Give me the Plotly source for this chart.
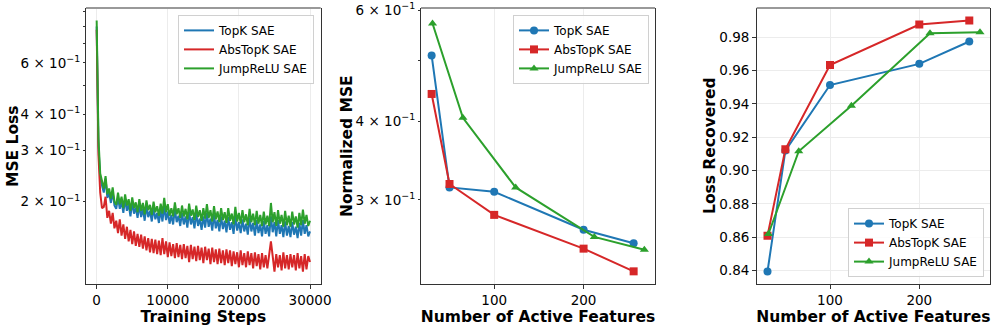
import numpy as np
import plotly.graph_objects as go

# --- data -------------------------------------------------------------
# training curves, one value every 250 steps (0 .. 30000)
steps = np.arange(0, 30001, 250)

mse_topk = [
    0.80, 0.31, 0.24, 0.225, 0.215, 0.24, 0.206, 0.215, 0.198, 0.216, 0.194, 0.189,
    0.207, 0.189, 0.2, 0.183, 0.204, 0.186, 0.196, 0.178, 0.199, 0.182, 0.191, 0.176,
    0.195, 0.177, 0.189, 0.172, 0.193, 0.177, 0.186, 0.171, 0.19, 0.174, 0.183, 0.169,
    0.187, 0.171, 0.193, 0.173, 0.185, 0.168, 0.18, 0.167, 0.188, 0.17, 0.179, 0.165,
    0.183, 0.167, 0.178, 0.163, 0.185, 0.167, 0.177, 0.162, 0.183, 0.165, 0.175, 0.16,
    0.178, 0.163, 0.183, 0.164, 0.175, 0.159, 0.181, 0.162, 0.173, 0.158, 0.178, 0.161,
    0.172, 0.157, 0.177, 0.16, 0.17, 0.155, 0.179, 0.159, 0.17, 0.156, 0.174, 0.158,
    0.168, 0.154, 0.176, 0.158, 0.169, 0.153, 0.173, 0.156, 0.167, 0.152, 0.172, 0.155,
    0.166, 0.152, 0.178, 0.157, 0.17, 0.152, 0.173, 0.155, 0.166, 0.151, 0.171, 0.153,
    0.165, 0.151, 0.17, 0.154, 0.164, 0.15, 0.169, 0.153, 0.173, 0.155, 0.166, 0.152,
    0.158,
]
mse_abstopk = [
    0.78, 0.29, 0.215, 0.19, 0.192, 0.208, 0.176, 0.186, 0.168, 0.183, 0.162, 0.172,
    0.156, 0.174, 0.153, 0.167, 0.149, 0.164, 0.146, 0.16, 0.143, 0.158, 0.141, 0.155,
    0.14, 0.154, 0.138, 0.152, 0.136, 0.15, 0.134, 0.149, 0.133, 0.148, 0.132, 0.147,
    0.131, 0.15, 0.132, 0.146, 0.129, 0.145, 0.13, 0.143, 0.128, 0.144, 0.129, 0.142,
    0.127, 0.143, 0.128, 0.141, 0.124, 0.142, 0.127, 0.14, 0.125, 0.141, 0.126, 0.139,
    0.123, 0.14, 0.126, 0.138, 0.122, 0.139, 0.124, 0.137, 0.122, 0.138, 0.123, 0.136,
    0.121, 0.137, 0.123, 0.136, 0.12, 0.135, 0.122, 0.134, 0.119, 0.136, 0.121, 0.133,
    0.119, 0.135, 0.121, 0.133, 0.118, 0.134, 0.12, 0.132, 0.117, 0.133, 0.119, 0.131,
    0.118, 0.133, 0.146, 0.13, 0.115, 0.132, 0.119, 0.131, 0.116, 0.134, 0.118, 0.131,
    0.117, 0.132, 0.119, 0.131, 0.116, 0.133, 0.118, 0.13, 0.115, 0.132, 0.117, 0.13,
    0.124,
]
mse_jumprelu = [
    0.84, 0.33, 0.25, 0.232, 0.222, 0.245, 0.212, 0.222, 0.205, 0.224, 0.2, 0.195,
    0.215, 0.196, 0.208, 0.19, 0.212, 0.194, 0.204, 0.186, 0.207, 0.19, 0.199, 0.184,
    0.204, 0.186, 0.198, 0.181, 0.202, 0.187, 0.195, 0.18, 0.2, 0.184, 0.193, 0.179,
    0.197, 0.182, 0.206, 0.184, 0.196, 0.179, 0.19, 0.178, 0.199, 0.181, 0.19, 0.176,
    0.194, 0.178, 0.189, 0.174, 0.197, 0.179, 0.188, 0.173, 0.194, 0.177, 0.187, 0.172,
    0.19, 0.175, 0.196, 0.176, 0.187, 0.171, 0.193, 0.174, 0.185, 0.17, 0.19, 0.173,
    0.184, 0.169, 0.19, 0.172, 0.182, 0.167, 0.192, 0.171, 0.183, 0.168, 0.187, 0.17,
    0.181, 0.166, 0.189, 0.17, 0.182, 0.166, 0.186, 0.168, 0.18, 0.165, 0.185, 0.167,
    0.179, 0.165, 0.198, 0.17, 0.184, 0.165, 0.187, 0.168, 0.18, 0.164, 0.186, 0.166,
    0.179, 0.164, 0.185, 0.167, 0.178, 0.163, 0.183, 0.166, 0.188, 0.168, 0.18, 0.165,
    0.172,
]

# sweep over sparsity
k_topk = [30, 50, 100, 200, 256]
k_abstopk = [30, 50, 100, 200, 256]
k_jumprelu = [31, 65, 124, 212, 268]

nmse_topk = [0.509, 0.314, 0.309, 0.269, 0.256]
nmse_abstopk = [0.442, 0.318, 0.284, 0.251, 0.231]
nmse_jumprelu = [0.572, 0.405, 0.314, 0.262, 0.250]

lr_topk = [0.8395, 0.912, 0.9513, 0.964, 0.9774]
lr_abstopk = [0.861, 0.9128, 0.9633, 0.9876, 0.990]
lr_jumprelu = [0.862, 0.9116, 0.9389, 0.9824, 0.983]

names = ['TopK SAE', 'AbsTopK SAE', 'JumpReLU SAE']
colors = ['#1f77b4', '#d62728', '#2ca02c']
symbols = ['circle', 'square', 'triangle-up']

log_ticks = [0.2, 0.3, 0.4, 0.6]
log_labels = ['2 × 10<sup>−1</sup>', '3 × 10<sup>−1</sup>', '4 × 10<sup>−1</sup>',
              '6 × 10<sup>−1</sup>']
log_minor = [0.5, 0.7, 0.8, 0.9]

FONT = 'DejaVu Sans'
W, H = 996, 327

fig = go.Figure()

# panel 1 : training curves
for ys, name, c in zip([mse_topk, mse_abstopk, mse_jumprelu], names, colors):
    fig.add_trace(go.Scatter(
        x=steps, y=ys, mode='lines', name=name,
        line=dict(color=c, width=2),
        xaxis='x', yaxis='y', legend='legend'
    ))

# panel 2 : normalized MSE, panel 3 : loss recovered
ks = [k_topk, k_abstopk, k_jumprelu]
for i, (xs, ys) in enumerate(zip(ks, [nmse_topk, nmse_abstopk, nmse_jumprelu])):
    fig.add_trace(go.Scatter(
        x=xs, y=ys, mode='lines+markers', name=names[i],
        line=dict(color=colors[i], width=2),
        marker=dict(symbol=symbols[i], size=8, color=colors[i]),
        xaxis='x2', yaxis='y2', legend='legend2'
    ))
for i, (xs, ys) in enumerate(zip(ks, [lr_topk, lr_abstopk, lr_jumprelu])):
    fig.add_trace(go.Scatter(
        x=xs, y=ys, mode='lines+markers', name=names[i],
        line=dict(color=colors[i], width=2),
        marker=dict(symbol=symbols[i], size=8, color=colors[i]),
        xaxis='x3', yaxis='y3', legend='legend3'
    ))

# axes -----------------------------------------------------------------
dom = [(86, 320.7), (421, 655), (756.7, 990)]
tickfont = dict(family=FONT, size=13.5, color='black')
titlefont = dict(family=FONT, size=15.5, color='black')


def xax(d, rng, vals, title):
    return dict(domain=[d[0] / W, d[1] / W], range=rng, tickvals=vals,
                ticktext=[str(v) for v in vals],
                showline=True, linecolor='#333', linewidth=1.2, mirror=False,
                ticks='outside', ticklen=3.5, tickwidth=1, tickcolor='#333',
                showgrid=True, gridcolor='#ececec', gridwidth=1, zeroline=False,
                tickfont=tickfont, automargin=False,
                title=dict(text='<b>%s</b>' % title, font=titlefont, standoff=1))


def yax(anchor, **kw):
    base = dict(anchor=anchor, domain=[0, 1], showline=True, linecolor='#333',
                linewidth=1.2, mirror=True, ticks='outside', tickwidth=1,
                tickcolor='#333', zeroline=False, tickfont=tickfont, automargin=False)
    base.update(kw)
    return base


log_minor_ax = dict(tickmode='array', tickvals=log_minor, ticks='outside',
                    ticklen=2, tickwidth=1, tickcolor='#333', showgrid=False)

fig.update_layout(
    xaxis=xax(dom[0], [-1500, 31500], [0, 10000, 20000, 30000], 'Training Steps'),
    xaxis2=dict(xax(dom[1], [18.1, 279.9], [100, 200], 'Number of Active Features'), anchor='y2'),
    xaxis3=dict(xax(dom[2], [17.9, 279.2], [100, 200], 'Number of Active Features'), anchor='y3'),
    yaxis=yax('x', type='log', range=[-0.982, -0.033],
              tickmode='array', tickvals=log_ticks, ticktext=log_labels,
              ticklen=2, showgrid=False, minor=log_minor_ax),
    yaxis2=yax('x2', type='log', range=[-0.6565, -0.218],
               tickmode='array', tickvals=log_ticks, ticktext=log_labels,
               ticklen=2, showgrid=False, minor=log_minor_ax),
    yaxis3=yax('x3', range=[0.832, 0.9975],
               tickvals=[0.84, 0.86, 0.88, 0.90, 0.92, 0.94, 0.96, 0.98],
               ticktext=['0.84', '0.86', '0.88', '0.90', '0.92', '0.94', '0.96', '0.98'],
               ticklen=3.5, showgrid=True, gridcolor='#ececec'),
)

# y titles placed as in the reference
for xpix, txt in [(13, 'MSE Loss'), (347, 'Normalized MSE'), (710, 'Loss Recovered')]:
    fig.add_annotation(text='<b>%s</b>' % txt, xref='paper', yref='paper',
                       x=xpix / W, y=0.5, xanchor='center', yanchor='middle',
                       textangle=-90, showarrow=False, font=titlefont)

# lighter top spine, like the reference
for xr, yr in [('x', 'y'), ('x2', 'y2'), ('x3', 'y3')]:
    fig.add_shape(type='line', xref=xr + ' domain', yref=yr + ' domain',
                  x0=0, x1=1, y0=1, y1=1, line=dict(color='#999', width=2),
                  layer='above')

leg = dict(bgcolor='rgba(255,255,255,0.85)', bordercolor='#d0d0d0', borderwidth=1,
           font=dict(family=FONT, size=12, color='black'),
           xanchor='right', yanchor='top', tracegroupgap=0)
fig.update_layout(
    legend=dict(leg, x=314 / W, y=0.975),
    legend2=dict(leg, x=649 / W, y=0.975),
    legend3=dict(leg, x=984 / W, y=0.025, yanchor='bottom'),
    width=W, height=H,
    margin=dict(l=0, r=0, t=8, b=43),
    paper_bgcolor='white', plot_bgcolor='white',
    font=dict(family=FONT, color='black'),
)

fig.write_html("out.html", config={'displayModeBar': False},
               post_script="document.body.style.margin='0';")
